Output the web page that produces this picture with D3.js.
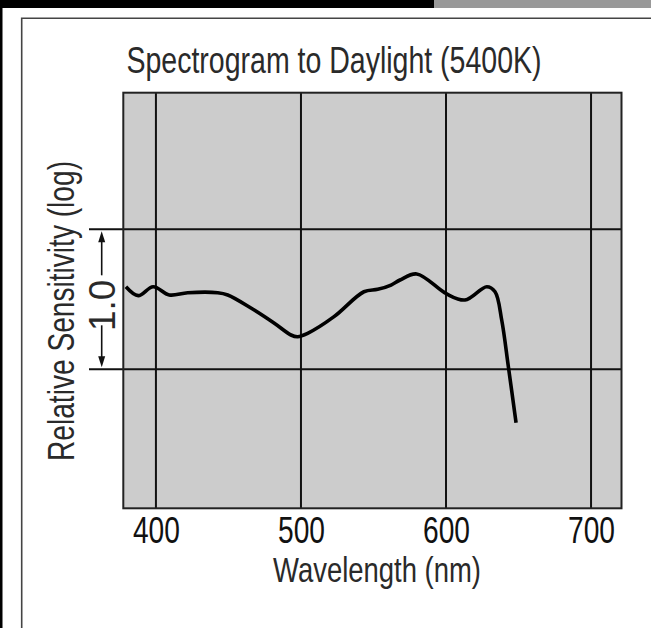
<!DOCTYPE html>
<html>
<head>
<meta charset="utf-8">
<script src="https://cdn.jsdelivr.net/npm/d3@7"></script>
<style>
  html, body { margin: 0; padding: 0; background: #fff; }
  svg { display: block; }
</style>
</head>
<body>
<svg id="chart" width="651" height="628"></svg>
<script>
// ---- data ----
const titleText = "Spectrogram to Daylight (5400K)";
const xLabelText = "Wavelength (nm)";
const yLabelText = "Relative Sensitivity (log)";
const xTicks = [400, 500, 600, 700];
const yGridValues = [0, -1];          // one log decade apart
const wavelengths = [379.3, 387.8, 398.1, 409.2, 421.9, 442.6, 449.5, 465.5, 481.4, 493.1, 497.7, 504.6,
                     522.8, 543.4, 552.9, 562.1, 568.3, 579.8, 600.5, 613.1, 628.1, 633.8, 638.4, 643.0, 648.3];
const logSensitivity = [-0.41, -0.474, -0.41, -0.469, -0.453, -0.453, -0.469, -0.562, -0.669, -0.755, -0.767, -0.743,
                        -0.624, -0.446, -0.429, -0.398, -0.362, -0.319, -0.462, -0.505, -0.41, -0.446, -0.648, -0.981, -1.381];

// ---- layout ----
const W = 651, H = 628;
const plot = { left: 123.3, right: 621.5, top: 92.7, bottom: 508.3 };
const font = "'Liberation Sans Narrow', 'Arial Narrow', 'Liberation Sans', sans-serif";

const svg = d3.select("#chart");

// page decoration: top bars, left strip, frame
svg.append("rect").attr("x", 0).attr("y", 0).attr("width", W).attr("height", H).attr("fill", "#fff");
svg.append("rect").attr("x", 0).attr("y", 0).attr("width", 434).attr("height", 8).attr("fill", "#000");
svg.append("rect").attr("x", 434).attr("y", 0).attr("width", W - 434).attr("height", 8).attr("fill", "#999");
svg.append("rect").attr("x", 0).attr("y", 0).attr("width", 2.5).attr("height", H).attr("fill", "#000");
svg.append("path")
  .attr("d", `M21.7,${H + 2}V18.3H${W + 2}`)
  .attr("fill", "none").attr("stroke", "#444").attr("stroke-width", 1.6);

// scales
const x = d3.scaleLinear().domain([377.5, 721]).range([plot.left, plot.right]);
const y = d3.scaleLinear().domain([-1.993, 0.976]).range([plot.bottom, plot.top]);

// plot background
svg.append("rect")
  .attr("x", plot.left).attr("y", plot.top)
  .attr("width", plot.right - plot.left).attr("height", plot.bottom - plot.top)
  .attr("fill", "#cccccc");

// vertical grid lines
svg.append("g").selectAll("line").data(xTicks).join("line")
  .attr("x1", d => x(d)).attr("x2", d => x(d))
  .attr("y1", plot.top).attr("y2", plot.bottom)
  .attr("stroke", "#111").attr("stroke-width", 2);

// horizontal grid lines (extend left of the plot)
svg.append("g").selectAll("line").data(yGridValues).join("line")
  .attr("x1", 89).attr("x2", plot.right)
  .attr("y1", d => y(d)).attr("y2", d => y(d))
  .attr("stroke", "#111").attr("stroke-width", 2);

// plot border
svg.append("rect")
  .attr("x", plot.left).attr("y", plot.top)
  .attr("width", plot.right - plot.left).attr("height", plot.bottom - plot.top)
  .attr("fill", "none").attr("stroke", "#222").attr("stroke-width", 2);

// curve
const line = d3.line()
  .x((d, i) => x(wavelengths[i]))
  .y(d => y(d))
  .curve(d3.curveCatmullRom.alpha(0.5));
svg.append("path")
  .datum(logSensitivity)
  .attr("d", line)
  .attr("fill", "none").attr("stroke", "#000").attr("stroke-width", 3.6)
  .attr("stroke-linejoin", "round").attr("stroke-linecap", "butt");

// x axis tick labels
const xAxis = d3.axisBottom(x).tickValues(xTicks).tickSize(0).tickFormat(d3.format("d"));
const gx = svg.append("g").attr("transform", `translate(0,${plot.bottom})`).call(xAxis);
gx.select(".domain").remove();
gx.selectAll("text")
  .attr("y", 543 - plot.bottom).attr("dy", 0)
  .attr("font-family", font).attr("font-size", 36)
  .attr("fill", "#111")
  .attr("textLength", 47).attr("lengthAdjust", "spacingAndGlyphs");

// title
svg.append("text")
  .attr("x", 334).attr("y", 73)
  .attr("text-anchor", "middle")
  .attr("font-family", font).attr("font-size", 36).attr("fill", "#2a2a2a")
  .attr("textLength", 415).attr("lengthAdjust", "spacingAndGlyphs")
  .text(titleText);

// x label
svg.append("text")
  .attr("x", 377).attr("y", 582)
  .attr("text-anchor", "middle")
  .attr("font-family", font).attr("font-size", 35).attr("fill", "#2a2a2a")
  .attr("textLength", 208).attr("lengthAdjust", "spacingAndGlyphs")
  .text(xLabelText);

// y label
svg.append("text")
  .attr("transform", "translate(74,311) rotate(-90)")
  .attr("text-anchor", "middle")
  .attr("font-family", font).attr("font-size", 36).attr("fill", "#2a2a2a")
  .attr("textLength", 300).attr("lengthAdjust", "spacingAndGlyphs")
  .text(yLabelText);

// "1.0" decade marker with arrows
const ax = 101.7;
const yTop = y(yGridValues[0]), yBot = y(yGridValues[1]);
const yMid = (yTop + yBot) / 2;
svg.append("line").attr("x1", ax).attr("x2", ax).attr("y1", yTop + 10).attr("y2", yMid - 24)
  .attr("stroke", "#111").attr("stroke-width", 1.6);
svg.append("line").attr("x1", ax).attr("x2", ax).attr("y1", yMid + 26).attr("y2", yBot - 10)
  .attr("stroke", "#111").attr("stroke-width", 1.6);
svg.append("path").attr("d", `M${ax},${yTop + 2}L${ax - 3.5},${yTop + 13}L${ax + 3.5},${yTop + 13}Z`).attr("fill", "#111");
svg.append("path").attr("d", `M${ax},${yBot - 2}L${ax - 3.5},${yBot - 13}L${ax + 3.5},${yBot - 13}Z`).attr("fill", "#111");
svg.append("text")
  .attr("transform", `translate(${ax + 13},${yMid + 6}) rotate(-90)`)
  .attr("text-anchor", "middle")
  .attr("font-family", font).attr("font-size", 37).attr("fill", "#2a2a2a")
  .text("1.0");
</script>
</body>
</html>
